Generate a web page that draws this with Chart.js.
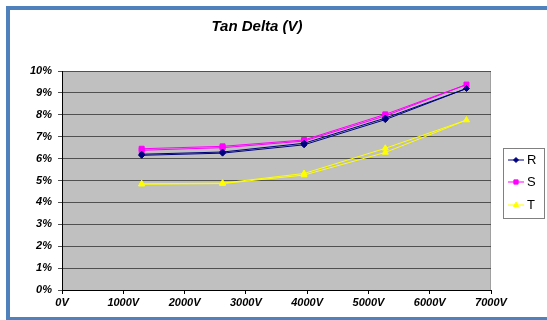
<!DOCTYPE html>
<html>
<head>
<meta charset="utf-8">
<script src="https://cdn.jsdelivr.net/npm/chart.js@4.4.1/dist/chart.umd.min.js"></script>
<style>
  html, body { margin: 0; padding: 0; background: #ffffff; }
  #frame { position: absolute; left: 6px; top: 6px; width: 541px; height: 314px;
           border-left: 4px solid #4f81bd; border-top: 4px solid #4f81bd; border-bottom: 3px solid #4f81bd;
           box-sizing: border-box; }
  #wrap { position: absolute; left: 0; top: 0; width: 547px; height: 320px; }
</style>
</head>
<body>
<div id="frame"></div>
<div id="wrap"><canvas id="c" width="547" height="320"></canvas></div>
<script>
// ---- data ----
const chartTitle = "Tan Delta (V)";
const voltagesUp = [1300, 2620, 3950, 5275, 6600];
const voltagesDown = [5275, 3950, 2620, 1300];
const seriesNames = ["R", "S", "T"];
const R_up = [6.15, 6.25, 6.63, 7.78, 9.20];
const R_down = [7.85, 6.70, 6.30, 6.20];
const S_up = [6.38, 6.50, 6.80, 7.95, 9.38];
const S_down = [8.02, 6.85, 6.56, 6.45];
const T_up = [4.83, 4.86, 5.25, 6.28, 7.76];
const T_down = [6.47, 5.32, 4.88, 4.85];
const yTicks = [0, 1, 2, 3, 4, 5, 6, 7, 8, 9, 10];
const xTicks = [0, 1000, 2000, 3000, 4000, 5000, 6000, 7000];

function pts(up, down) {
  const a = voltagesUp.map((v, i) => ({ x: v, y: up[i] }));
  const b = voltagesDown.map((v, i) => ({ x: v, y: down[i] }));
  return a.concat(b);
}
const colors = ["#000080", "#ff00ff", "#ffff00"];
const styles = ["rectRot", "rect", "triangle"];
const radii = [3, 3.5, 3.5];
const vals = [[R_up, R_down], [S_up, S_down], [T_up, T_down]];

const datasets = seriesNames.map((n, i) => ({
  label: n,
  data: pts(vals[i][0], vals[i][1]),
  borderColor: colors[i],
  backgroundColor: colors[i],
  borderWidth: 1,
  pointStyle: styles[i],
  pointRadius: radii[i],
  pointBorderWidth: 1,
  pointBackgroundColor: colors[i],
  pointBorderColor: colors[i],
  showLine: true,
  tension: 0,
  fill: false
}));

const decor = {
  id: 'decor',
  beforeDraw(chart) {
    const { ctx, chartArea: a } = chart;
    ctx.save();
    ctx.fillStyle = '#c0c0c0';
    ctx.fillRect(a.left, a.top, a.right - a.left, a.bottom - a.top);
    ctx.strokeStyle = '#a0a0a0';
    ctx.lineWidth = 1;
    ctx.beginPath();
    ctx.moveTo(a.left, a.top + 0.5); ctx.lineTo(a.right - 0.5, a.top + 0.5); ctx.lineTo(a.right - 0.5, a.bottom);
    ctx.stroke();
    ctx.restore();
  },
  afterDraw(chart) {
    const { ctx } = chart;
    ctx.save();
    // title
    ctx.fillStyle = '#000';
    ctx.font = 'italic bold 15px "Liberation Sans", Arial, sans-serif';
    ctx.textAlign = 'center';
    ctx.textBaseline = 'middle';
    ctx.fillText(chartTitle, 257, 27);
    // legend
    const lx = 503, ly = 148, lw = 41, lh = 70;
    ctx.fillStyle = '#ffffff';
    ctx.fillRect(lx, ly, lw, lh);
    ctx.strokeStyle = '#808080';
    ctx.lineWidth = 1;
    ctx.strokeRect(lx + 0.5, ly + 0.5, lw, lh);
    const rows = [160, 182, 205];
    chart.data.datasets.forEach((ds, i) => {
      const y = rows[i];
      ctx.strokeStyle = ds.borderColor;
      ctx.lineWidth = 1;
      ctx.beginPath(); ctx.moveTo(508, y); ctx.lineTo(524, y); ctx.stroke();
      ctx.fillStyle = ds.borderColor;
      ctx.strokeStyle = ds.borderColor;
      Chart.helpers.drawPoint(ctx, { pointStyle: ds.pointStyle, radius: ds.pointRadius - 0.5, borderWidth: 1 }, 516, y);
      ctx.fillStyle = '#000';
      ctx.font = '13px "Liberation Sans", Arial, sans-serif';
      ctx.textAlign = 'left';
      ctx.textBaseline = 'middle';
      ctx.fillText(ds.label, 527, y + 0.5);
    });
    ctx.restore();
  }
};

new Chart(document.getElementById('c'), {
  type: 'scatter',
  data: { datasets },
  options: {
    responsive: false,
    animation: false,
    events: [],
    layout: { padding: { left: 0, top: 71, right: 56, bottom: 0 } },
    plugins: { legend: { display: false }, title: { display: false }, tooltip: { enabled: false } },
    scales: {
      x: {
        type: 'linear', min: 0, max: 7000,
        afterBuildTicks: s => { s.ticks = xTicks.map(v => ({ value: v })); },
        afterFit: s => { s.height = 30; },
        grid: { drawOnChartArea: false, drawTicks: true, tickLength: 4, color: '#000' },
        border: { color: '#000', width: 1 },
        ticks: { color: '#000', padding: 2, maxRotation: 0,
                 font: { family: '"Liberation Sans", Arial, sans-serif', size: 11, style: 'italic', weight: 'bold' },
                 callback: v => v + 'V' }
      },
      y: {
        min: 0, max: 10,
        afterBuildTicks: s => { s.ticks = yTicks.map(v => ({ value: v })); },
        afterFit: s => { s.width = 62; },
        grid: { drawOnChartArea: true, drawTicks: true, tickLength: 4, color: '#505050', lineWidth: 1 },
        border: { color: '#000', width: 1 },
        ticks: { color: '#000', padding: 6,
                 font: { family: '"Liberation Sans", Arial, sans-serif', size: 11, style: 'italic', weight: 'bold' },
                 callback: v => v + '%' }
      }
    }
  },
  plugins: [decor]
});
</script>
</body>
</html>
